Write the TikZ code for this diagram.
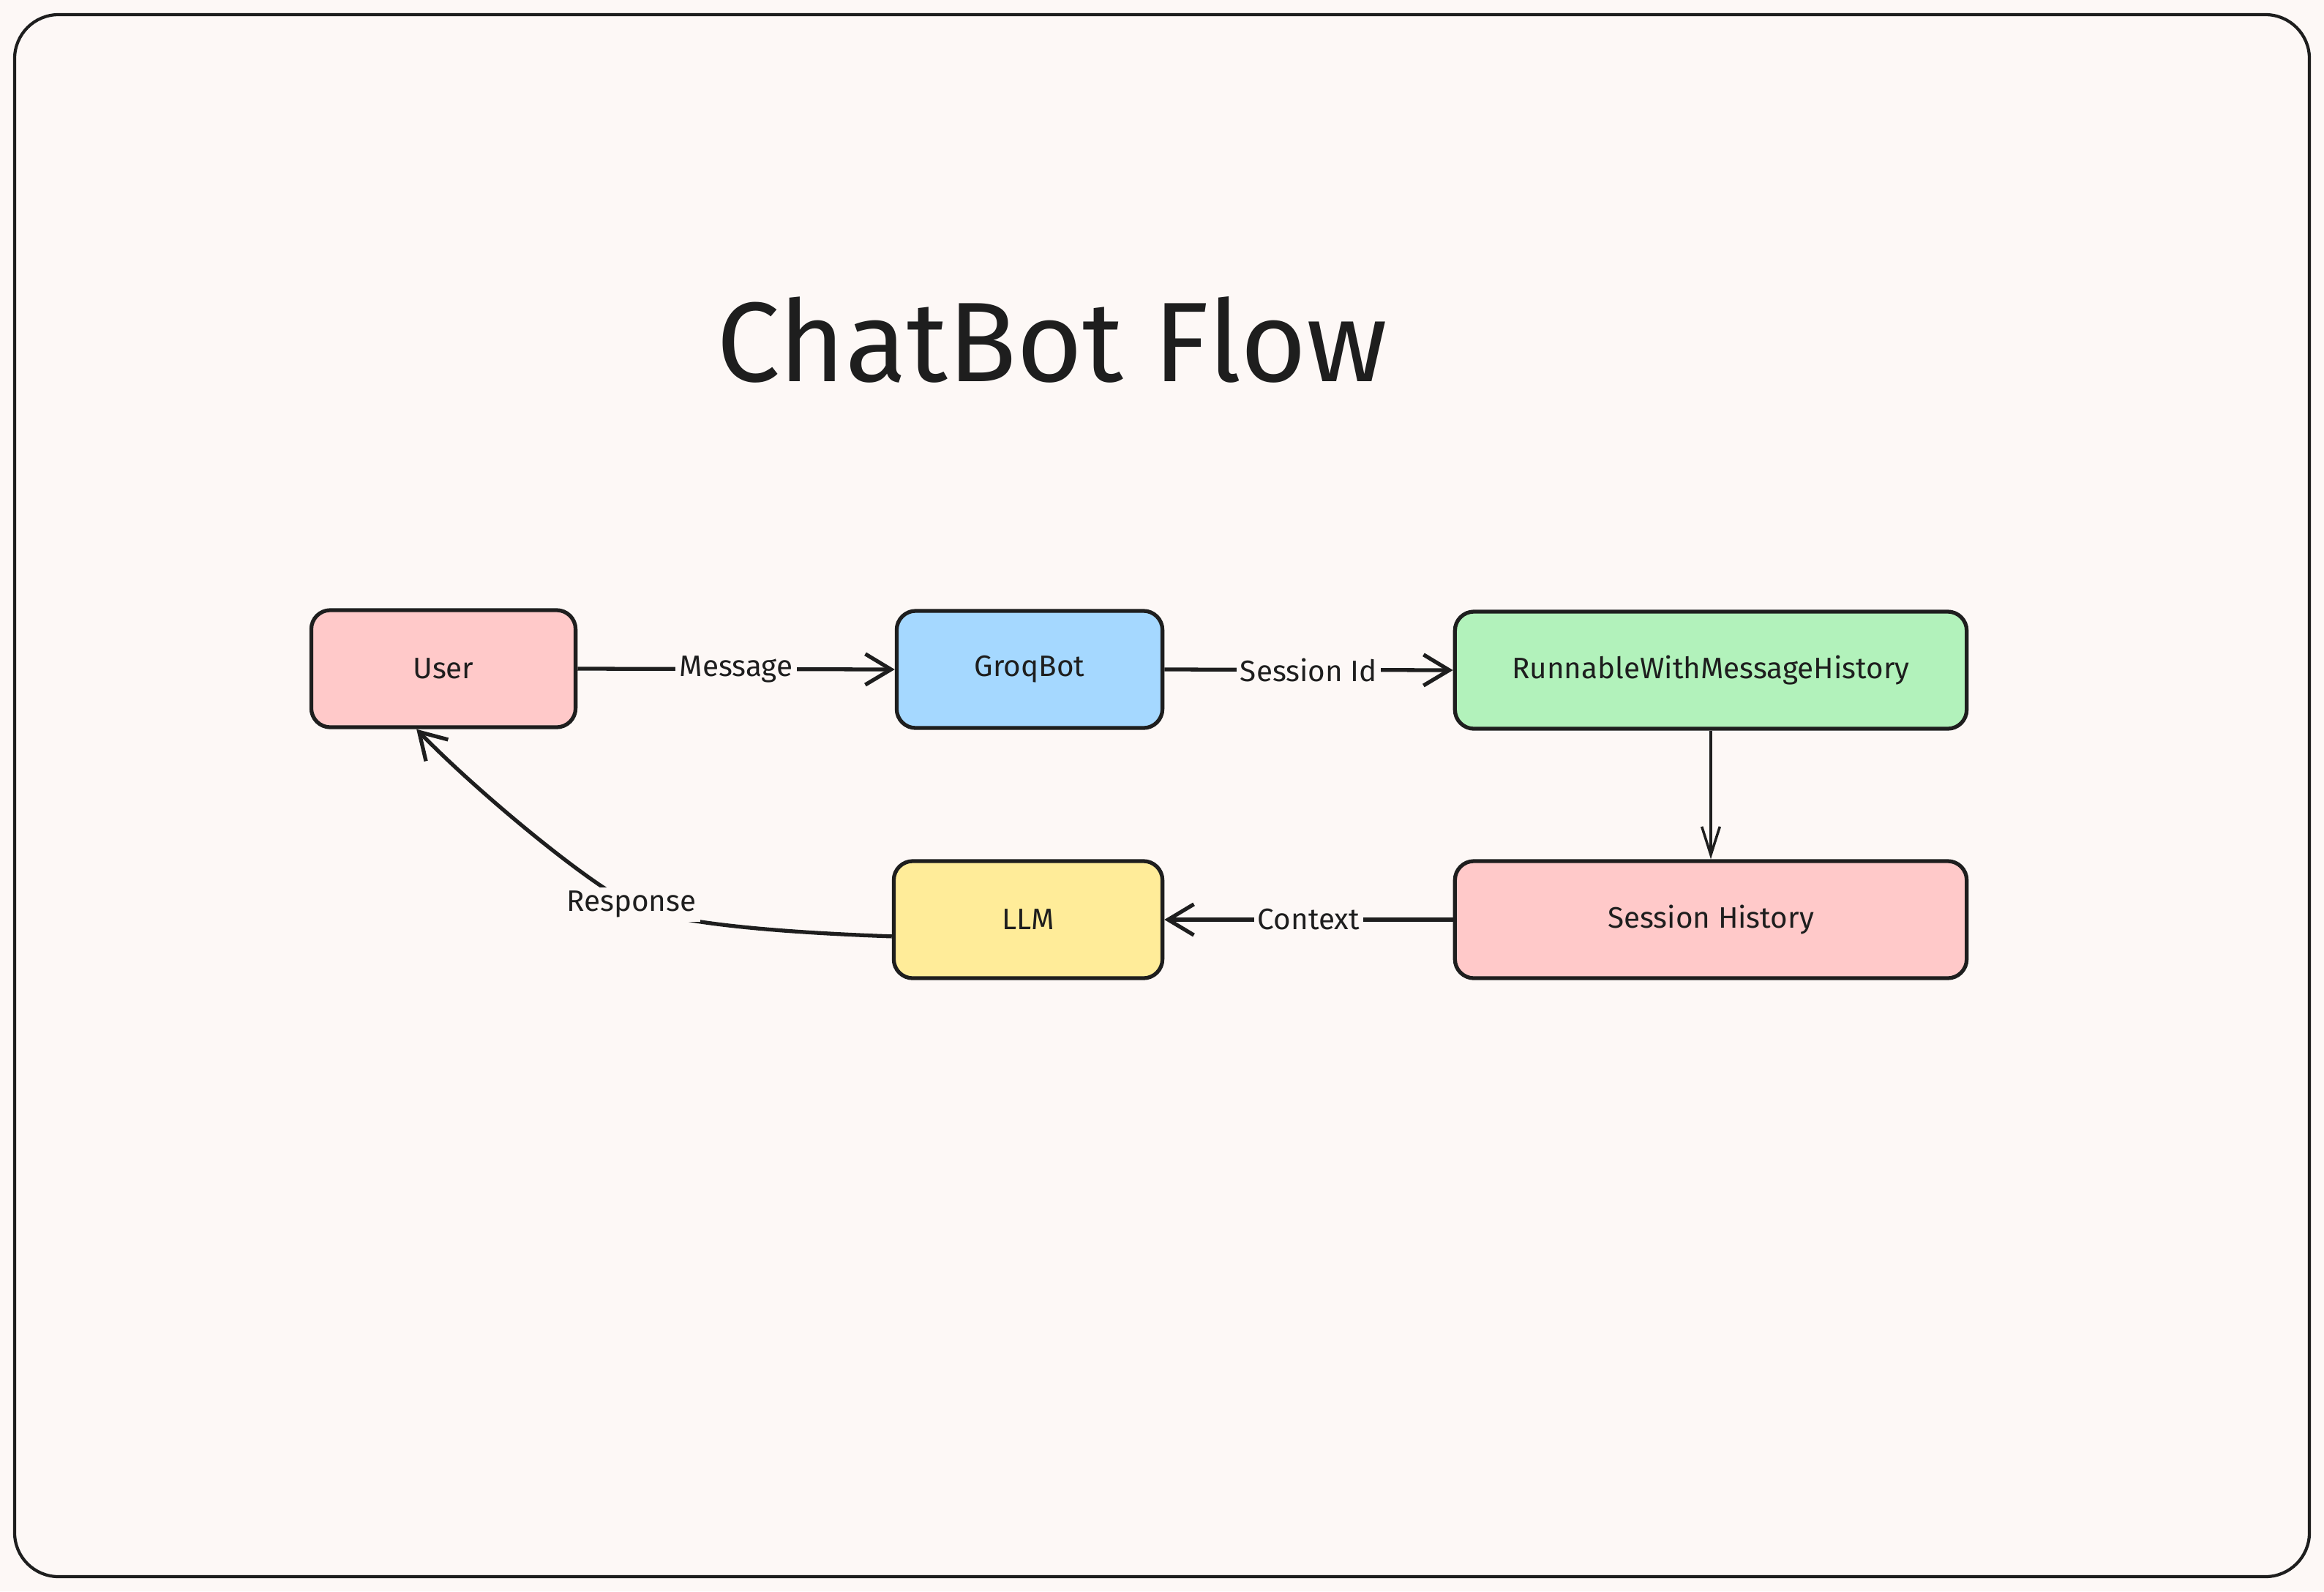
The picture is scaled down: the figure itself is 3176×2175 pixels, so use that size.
\documentclass[tikz,border=0pt]{standalone}
\usepackage{fontspec}
\setmainfont{Fira Sans}
\usetikzlibrary{arrows.meta,calc}
\definecolor{bg}{HTML}{FDF8F6}
\definecolor{ink}{HTML}{1E1E1E}
\definecolor{pinkfill}{HTML}{FFC9C9}
\definecolor{bluefill}{HTML}{A5D8FF}
\definecolor{greenfill}{HTML}{B2F2BB}
\definecolor{yellowfill}{HTML}{FFEC99}
\begin{document}
\begin{tikzpicture}[x=0.01cm,y=-0.01cm,
  box/.style={draw=ink, line width=1.5pt, rounded corners=0.26cm, minimum height=1.6cm, inner sep=0pt, align=center, font=\fontsize{11.5}{14}\selectfont, text=ink},
  edgelbl/.style={fill=bg, inner sep=1.5pt, font=\fontsize{11.5}{14}\selectfont, text=ink},
  flow/.style={draw=ink, line width=1.5pt, -{Straight Barb[length=10pt,width=12pt]}},
  thinflow/.style={draw=ink, line width=1pt, -{Straight Barb[length=11pt,width=7pt]}}]
\useasboundingbox (0,0) rectangle (3176,2175);
\fill[bg] (0,0) rectangle (3176,2175);
\draw[ink, line width=1.2pt, rounded corners=0.6cm] (20,20) rectangle (3156,2155);

\node[text=ink, font=\fontsize{44}{52}\selectfont] (title) at (1438,464) {ChatBot Flow};

\node[box, fill=pinkfill, minimum width=3.61cm] (user) at (606,914) {User};
\node[box, fill=bluefill, minimum width=3.63cm] (groq) at (1407,915) {GroqBot};
\node[box, fill=greenfill, minimum width=6.99cm] (runnable) at (2338,916) {RunnableWithMessageHistory};
\node[box, fill=pinkfill, minimum width=6.99cm] (session) at (2338,1257) {Session History};
\node[box, fill=yellowfill, minimum width=3.67cm] (llm) at (1405,1257) {LLM};

\draw[flow] (user.east) -- node[edgelbl] {Message} (groq.west);
\draw[flow] (groq.east) -- node[edgelbl] {Session Id} (runnable.west);
\draw[thinflow] (runnable.south) -- (session.north);
\draw[flow] (session.west) -- node[edgelbl] {Context} (llm.east);

\coordinate (rmid) at (863,1236);
\draw[flow] (llm.187) .. controls (1000,1272) and (900,1255) .. (rmid)
  .. controls (800,1205) and (650,1080) .. (user.-114);
\node[edgelbl] (resp) at (rmid) {Response};
\end{tikzpicture}
\end{document}
